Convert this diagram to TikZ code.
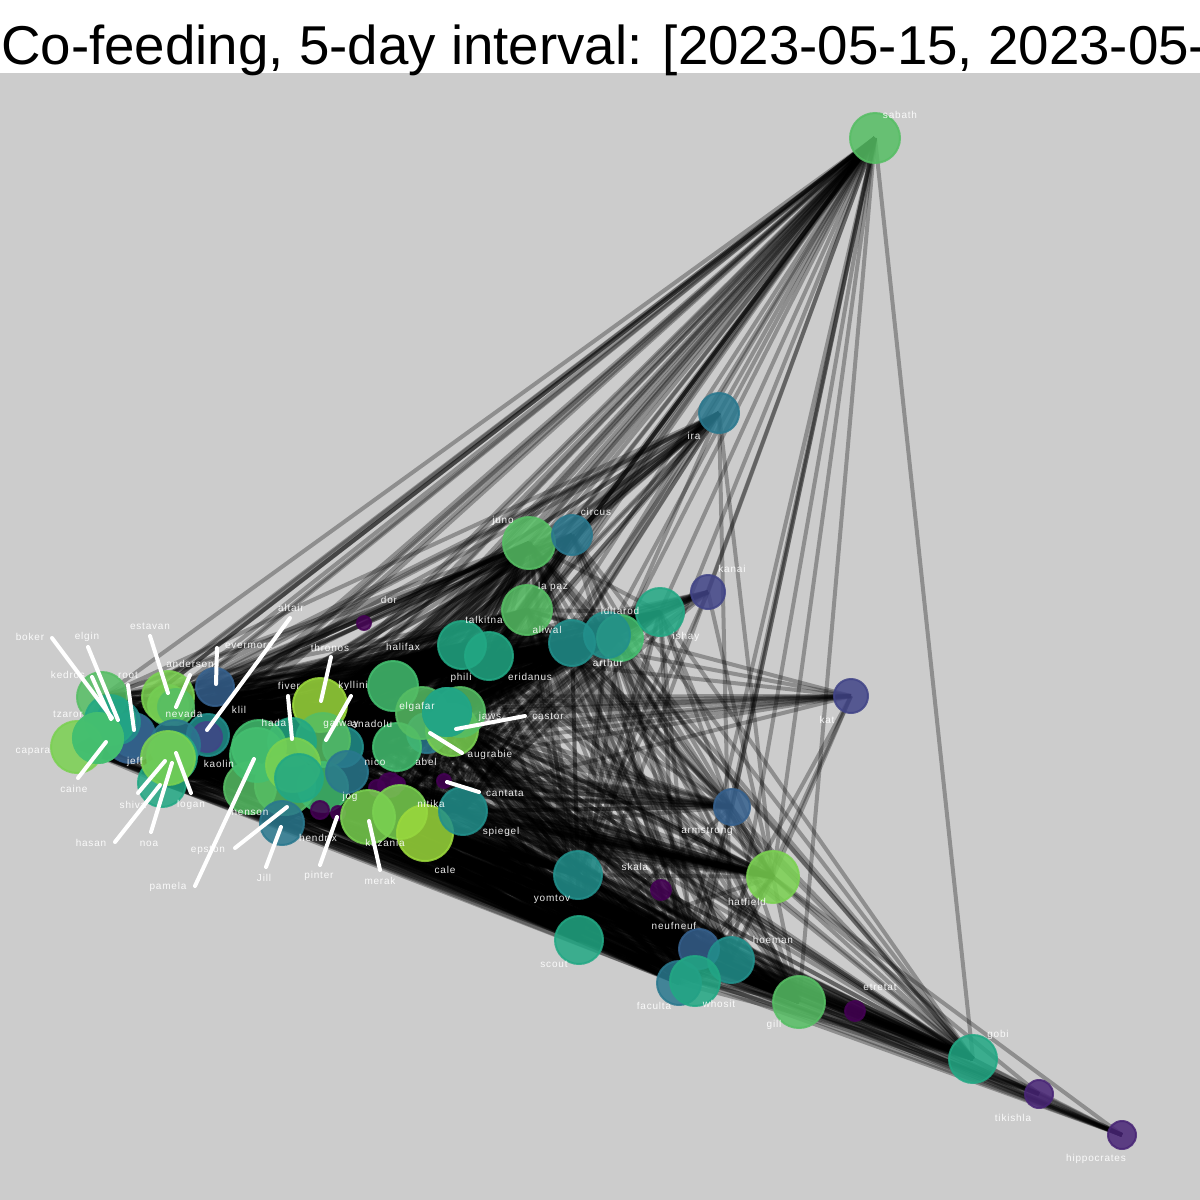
\documentclass[tikz,border=0pt]{standalone}
\usepackage{fontspec}
\setmainfont{Liberation Sans}
\newfontfamily\lblfont[LetterSpace=8]{Liberation Sans}
\usetikzlibrary{backgrounds}
\definecolor{Panel}{HTML}{CCCCCC}
\definecolor{VirA}{HTML}{440154}
\definecolor{VirB}{HTML}{482576}
\definecolor{VirC}{HTML}{414487}
\definecolor{VirD}{HTML}{35608D}
\definecolor{VirE}{HTML}{2A788E}
\definecolor{VirF}{HTML}{22908C}
\definecolor{VirG}{HTML}{22A884}
\definecolor{VirH}{HTML}{44BF70}
\definecolor{VirI}{HTML}{56BE64}
\definecolor{VirJ}{HTML}{7AD151}
\definecolor{VirK}{HTML}{9BD93C}
\tikzset{
  bird/.style={circle, inner sep=0pt, line width=2pt, opacity=0.85},
  tie/.style={line width=4pt, black, opacity=0.3},
  lbl/.style={font=\lblfont\fontsize{10}{12}\selectfont, text=white, text opacity=0.9, inner sep=0pt},
  leader/.style={line width=4pt, white, line cap=round},
  ttl/.style={font=\fontsize{54.7}{60}\selectfont, inner sep=0pt, anchor=base west},
}
% back to front: name/x/y/radius/colour
\def\crew{boker/102/697/25/VirI,root/133/735/22/VirE,jeff/130/738/25/VirD,elgin/118/722/22/VirF,
  kedros/110/720/25/VirG,capara/77/747/26/VirJ,tzaror/98/738/25/VirH,caine/98/738/25/VirH,
  nevada/168/705/20/VirI,estavan/168/697/26/VirJ,anderson/176/707/18/VirI,evermore/215/687/19/VirD,
  kaolin/208/735/21/VirF,altair/207/737/15/VirC,hasan/162/783/24/VirG,logan/175/745/25/VirE,
  noa/172/757/25/VirG,shiva/168/758/27/VirJ,sabath/875/138/25/VirI,ira/719/413/20/VirE,
  juno/529/543/26/VirI,circus/572/535/20/VirE,kanai/708/592/17/VirC,la paz/527/610/25/VirI,
  arthur/620/638/23/VirH,aliwal/572/643/23/VirF,iditarod/607/635/23/VirF,ishay/660/612/24/VirG,
  talkitna/462/645/24/VirG,eridanus/489/656/24/VirG,halifax/393/686/25/VirH,abel/427/733/20/VirE,
  anadolu/397/747/24/VirH,augrabie/452/730/26/VirJ,jaws/460/712/25/VirI,elgafar/422/713/26/VirI,
  phili/447/712/24/VirF,castor/447/712/24/VirG,thronos/320/705/27/VirK,nico/343/747/20/VirF,
  kyllini/323/740/27/VirI,hada/292/742/24/VirG,klil/259/747/27/VirH,henson/250/788/26/VirI,
  epston/285/785/30/VirI,pamela/257/755/27/VirH,jog/323/787/25/VirH,fixa/347/772/21/VirE,
  fiver/293/765/27/VirJ,galway/299/778/24/VirG,Jill/282/823/22/VirE,hendrix/320/810/9/VirA,
  pinter/338/813/7/VirA,fixb/377/788/8/VirA,fixc/390/785/12/VirA,nitika/398/784/7/VirA,
  cantata/444/781/7/VirA,merak/368/817/27/VirJ,kazania/400/812/27/VirJ,cale/425/833/28/VirK,
  spiegel/463/811/24/VirF,dor/364/623/7/VirA,kat/851/696/17/VirC,armstrong/732/807/18/VirD,
  hatfield/773/877/26/VirJ,yomtov/578/875/24/VirF,skala/661/890/10/VirA,scout/579/940/24/VirG,
  neufneuf/699/949/20/VirD,hoeman/731/960/23/VirF,faculta/679/983/22/VirE,whosit/695/981/25/VirG,
  gill/799/1002/26/VirI,etretat/855/1011/10/VirA,gobi/973/1059/24/VirG,tikishla/1039/1094/14/VirB,
  hippocrates/1122/1135/14/VirB}
\newcommand\rollof[1]{\numexpr(#1)-101*(((#1)-50)/101)\relax}
\begin{document}
\begin{tikzpicture}[x=1pt,y=-1pt]
  \useasboundingbox (0,0) rectangle (1200,1200);
  \node[ttl] (title) at (1,64) {Co-feeding, 5-day interval: [2023-05-15, 2023-05-};
  \foreach \n/\x/\y/\r/\c in \crew
    \node[bird, minimum size=\r*2pt, fill=\c, draw=\c] (\n) at (\x,\y) {};
  \begin{scope}[on background layer]
    \fill[Panel] (0,73) rectangle (1200,1200);
    % ties: the larger the two birds the likelier
    \foreach \a/\ax/\ay/\ra/\ca [count=\i] in \crew
      \foreach \b/\bx/\by/\rb/\cb [count=\j] in \crew {
        \ifnum\j>\i
          \ifnum\rollof{\i*\i*31+\j*\j*17+\i*\j*53}<\numexpr(\ra*\rb-350)*2/5\relax
            \draw[tie] (\a.center) -- (\b.center);
          \fi
        \fi
      }
    % the small ones at the far end
    \foreach \a/\b in {hippocrates/capara,hippocrates/caine,hippocrates/shiva,hippocrates/merak,
      hippocrates/gobi,hippocrates/tikishla,hippocrates/gill,hippocrates/whosit,hippocrates/hatfield,
      hippocrates/yomtov,tikishla/capara,tikishla/hasan,tikishla/gobi,tikishla/gill,tikishla/hatfield,
      tikishla/scout,tikishla/klil,tikishla/cale}
      \draw[tie] (\a.center) -- (\b.center);
  \end{scope}
  % leader lines
  \foreach \n/\ax/\ay/\bx/\by in {boker/52/638/112/718,kedros/92/677/111/719,elgin/88/647/118/720,
    caine/78/778/106/742,root/128/685/134/730,estavan/150/636/168/693,anderson/190/675/176/707,
    evermore/217/648/216/684,altair/290/618/207/730,shiva/138/793/165/761,hasan/115/842/160/785,
    noa/151/832/172/763,logan/191/793/176/753,pamela/195/886/254/759,epston/235/848/287/807,
    Jill/266/867/281/827,pinter/320/865/337/817,merak/380/870/369/821,thronos/331/657/321/701,
    kyllini/351/696/326/740,fiver/288/696/292/739,castor/525/716/456/729,augrabie/462/753/430/733,
    cantata/479/792/447/782} {
    \coordinate (\n-a) at (\ax,\ay);
    \coordinate (\n-b) at (\bx,\by);
    \draw[leader] (\n-a) -- (\n-b);
  }
  % labels
  \foreach \n/\x/\y in {boker/30/637,elgin/87/637,kedros/68/675,estavan/150/626,root/128/675,
    anderson/190/664,evermore/249/646,altair/291/608,tzaror/68/714,capara/33/752,caine/74/789,
    jeff/135/762,nevada/184/714,klil/239/710,kaolin/219/764,shiva/133/805,logan/191/805,
    hasan/91/843,noa/149/844,epston/208/850,Jill/264/878,pamela/168/887,henson/250/812,
    dor/389/600,thronos/330/648,halifax/403/647,fiver/289/686,kyllini/353/686,hada/274/723,
    galway/341/724,anadolu/372/724,elgafar/417/707,jaws/490/717,castor/548/716,augrabie/490/755,
    phili/461/678,nico/375/762,abel/426/762,cantata/505/793,jog/350/797,nitika/431/804,
    hendrix/318/838,kazania/385/843,pinter/319/876,merak/380/881,cale/445/870,spiegel/501/832,
    sabath/900/115,ira/694/436,juno/503/521,circus/596/512,kanai/732/569,la paz/553/587,
    ishay/686/637,iditarod/620/611,arthur/608/663,aliwal/547/630,talkitna/484/620,eridanus/530/677,
    kat/827/720,armstrong/707/831,hatfield/747/902,yomtov/552/899,skala/635/867,scout/554/964,
    neufneuf/674/926,hoeman/773/940,faculta/654/1006,whosit/719/1004,gill/774/1025,etretat/880/987,
    gobi/998/1035,tikishla/1013/1118,hippocrates/1096/1159}
    \node[lbl] (lbl-\n) at (\x,\y) {\n};
\end{tikzpicture}
\end{document}
